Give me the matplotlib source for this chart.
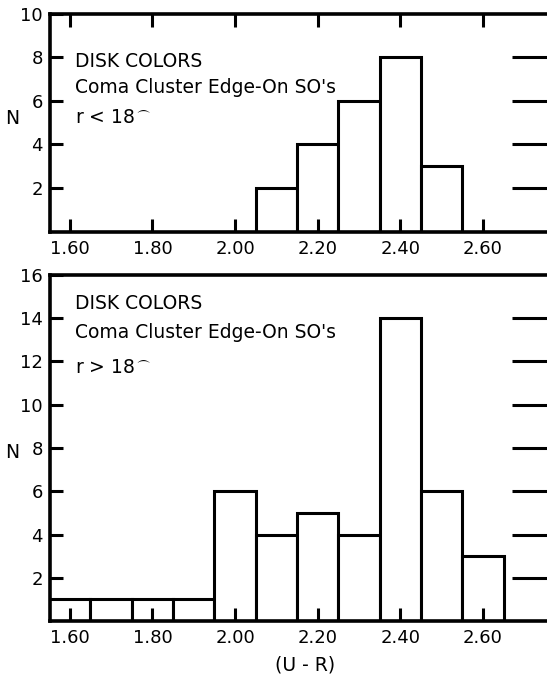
import matplotlib.pyplot as plt

# bin left edges in (U - R) and counts
edges_bright = [2.05, 2.15, 2.25, 2.35, 2.45]
counts_bright = [2, 4, 6, 8, 3]

edges_faint = [1.55, 1.65, 1.75, 1.85, 1.95, 2.05, 2.15, 2.25, 2.35, 2.45, 2.55]
counts_faint = [1, 1, 1, 1, 6, 4, 5, 4, 14, 6, 3]

xticks = [1.60, 1.80, 2.00, 2.20, 2.40, 2.60]
xticklabels = ["1.60", "1.80", "2.00", "2.20", "2.40", "2.60"]

plt.rcParams['font.family'] = ['DejaVu Sans']
fig = plt.figure(figsize=(5.47, 6.79), dpi=100)

lw = 2.2
fs = 13.5


def panel(rect, edges, counts, ymax, yticks, top_ticks, lines):
    ax = fig.add_axes(rect)
    ax.bar(edges, counts, width=0.1, align='edge', facecolor='white',
           edgecolor='black', linewidth=lw, zorder=1)
    ax.set_xlim(1.552, 2.755)
    ax.set_ylim(0, ymax)
    ax.set_xticks(xticks)
    ax.set_xticklabels(xticklabels)
    ax.set_yticks(yticks)
    ax.set_yticklabels([str(t) for t in yticks])
    ax.spines['right'].set_visible(False)
    for s in ['left', 'top', 'bottom']:
        ax.spines[s].set_linewidth(2.6)
    ax.tick_params(axis='x', direction='in', length=9.5, width=lw,
                   top=top_ticks, labelsize=13, pad=6)
    ax.tick_params(axis='y', direction='in', length=9.5, width=lw,
                   labelsize=13, pad=5)
    ax2 = ax.twinx()
    ax2.set_ylim(0, ymax)
    ax2.set_yticks([t for t in yticks if t < ymax])
    for s in ['left', 'top', 'bottom', 'right']:
        ax2.spines[s].set_visible(False)
    ax2.tick_params(axis='y', direction='in', length=25, width=lw,
                    labelright=False)
    for (y, txt) in zip(lines[0], lines[1]):
        ax.text(0.05, y, txt, transform=ax.transAxes, fontsize=fs,
                va='center', ha='left')
    return ax


panel([0.0914, 0.659, 0.9086, 0.321], edges_bright, counts_bright, 10,
      [2, 4, 6, 8, 10], True,
      ([0.778, 0.659, 0.521],
       ["DISK COLORS", "Coma Cluster Edge-On SO's", r"r < 18$^{\frown}$"]))

panel([0.0914, 0.0854, 0.9086, 0.5096], edges_faint, counts_faint, 16,
      [2, 4, 6, 8, 10, 12, 14, 16], False,
      ([0.919, 0.835, 0.734],
       ["DISK COLORS", "Coma Cluster Edge-On SO's", r"r > 18$^{\frown}$"]))

fig.text(0.022, 0.826, "N", fontsize=fs, ha='center', va='center')
fig.text(0.022, 0.334, "N", fontsize=fs, ha='center', va='center')
fig.text(0.558, 0.0206, "(U - R)", fontsize=fs, ha='center', va='center')

fig.savefig("out.png", dpi=100)
